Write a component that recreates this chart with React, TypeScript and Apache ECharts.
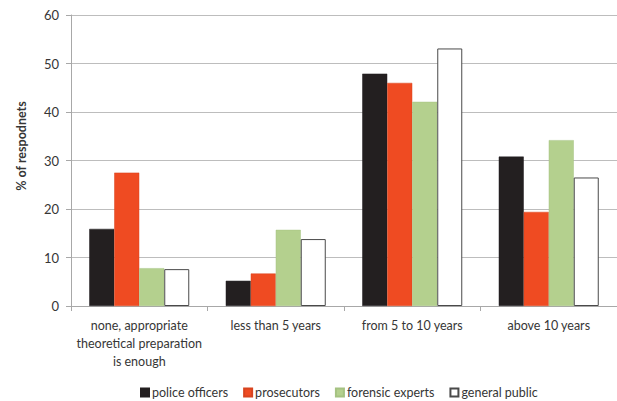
import React, { useEffect, useRef } from "react";
import * as echarts from "echarts";

// Survey: required practical experience, % of respondents per group
const categories = [
  "none, appropriate\ntheoretical preparation\nis enough",
  "less than 5 years",
  "from 5 to 10 years",
  "above 10 years",
];
const policeOfficers = [15.9, 5.2, 47.9, 30.8];
const prosecutors = [27.5, 6.7, 46.0, 19.4];
const forensicExperts = [7.8, 15.7, 42.1, 34.2];
const generalPublic = [7.6, 13.8, 53.1, 26.5];
const yTicks = { min: 0, max: 60, interval: 10 };

const FONT = "Lato, 'Open Sans', sans-serif";
const TEXT = "#363636";

export default function App() {
  const ref = useRef<HTMLDivElement>(null);

  useEffect(() => {
    if (!ref.current) return;
    const chart = echarts.init(ref.current, undefined, { renderer: "svg" });

    const bar = (name: string, data: number[], color: string, border: string, bw: number) => ({
      name,
      type: "bar",
      data,
      barWidth: 25,
      barGap: "0%",
      itemStyle: { color, borderColor: border, borderWidth: bw },
    });

    chart.setOption({
      animation: false,
      backgroundColor: "#ffffff",
      textStyle: { fontFamily: FONT },
      grid: { left: 71, right: 0, top: 15, bottom: 95 },
      legend: {
        left: 135,
        top: 381,
        itemWidth: 8,
        itemHeight: 8,
        itemGap: 15,
        icon: "rect",
        textStyle: { fontFamily: FONT, fontSize: 12.5, color: TEXT, padding: [0, 0, 0, -2] },
        data: ["police officers", "prosecutors", "forensic experts", "general public"],
      },
      xAxis: {
        type: "category",
        data: categories,
        axisLine: { lineStyle: { color: "#a8a8a8", width: 1 } },
        axisTick: { show: true, length: 5, lineStyle: { color: "#a8a8a8" } },
        axisLabel: {
          interval: 0,
          margin: 10,
          fontFamily: FONT,
          fontSize: 12.5,
          lineHeight: 18,
          color: TEXT,
        },
      },
      yAxis: {
        type: "value",
        min: yTicks.min,
        max: yTicks.max,
        interval: yTicks.interval,
        axisLine: { show: true, lineStyle: { color: "#a8a8a8", width: 1 } },
        axisTick: { show: true, length: 5, lineStyle: { color: "#a8a8a8" } },
        axisLabel: { margin: 12, fontFamily: FONT, fontSize: 13, color: TEXT },
        splitLine: { lineStyle: { color: "#bdbdbd", width: 1 } },
      },
      graphic: [
        {
          type: "text",
          x: 21,
          y: 146,
          rotation: Math.PI / 2,
          style: {
            text: "% of respodnets",
            fontFamily: FONT,
            fontWeight: "bold",
            fontSize: 12.5,
            fill: TEXT,
            align: "center",
            verticalAlign: "middle",
          },
        },
      ],
      series: [
        bar("police officers", policeOfficers, "#231f20", "#231f20", 0.5),
        bar("prosecutors", prosecutors, "#ef4b22", "#d8441f", 0.5),
        bar("forensic experts", forensicExperts, "#b4d08e", "#a5c282", 0.5),
        bar("general public", generalPublic, "#ffffff", "#4a4a4a", 1),
      ],
    });

    return () => chart.dispose();
  }, []);

  return <div ref={ref} style={{ width: 617, height: 401, position: "absolute", left: 0, top: 0 }} />;
}
